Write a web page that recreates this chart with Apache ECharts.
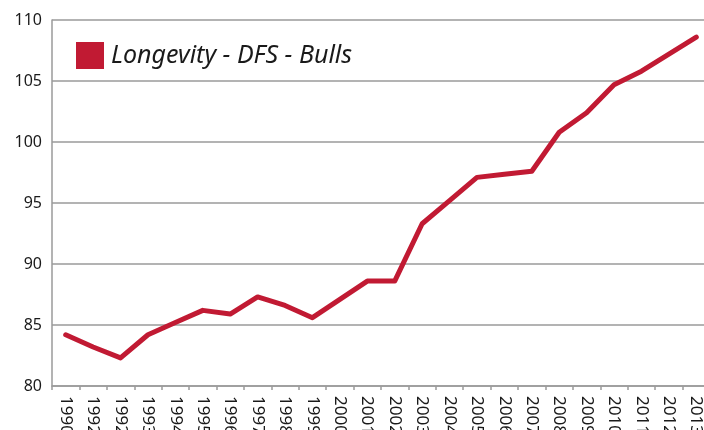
<!DOCTYPE html>
<html>
<head>
<meta charset="utf-8">
<script src="https://cdn.jsdelivr.net/npm/echarts@6/dist/echarts.min.js"></script>
<style>
  html, body { margin: 0; padding: 0; background: #fff; }
  #chart { width: 704px; height: 430px; }
</style>
</head>
<body>
<div id="chart"></div>
<script>
// x-axis labels as printed (the second label reads 1992 in the source)
const years = ['1990', '1992', '1992', '1993', '1994', '1995', '1996', '1997', '1998', '1999',
  '2000', '2001', '2002', '2003', '2004', '2005', '2006', '2007', '2008', '2009',
  '2010', '2011', '2012', '2013']
const seriesName = 'Longevity - DFS - Bulls'
const longevity = [84.2, 83.2, 82.3, 84.2, 85.2, 86.2, 85.9, 87.3, 86.6, 85.6,
  87.1, 88.6, 88.6, 93.3, 95.2, 97.1, 97.35, 97.6, 100.8, 102.4,
  104.7, 105.8, 107.2, 108.6]

const chart = echarts.init(document.getElementById('chart'))
const font = 'Noto Sans'

chart.setOption({
  animation: false,
  grid: {
    left: 52,
    top: 20,
    width: 658,
    bottom: 44,
    containLabel: false,
    outerBoundsMode: 'none'
  },
  legend: {
    left: 71,
    top: 37,
    icon: 'rect',
    itemWidth: 28,
    itemHeight: 27,
    itemGap: 12,
    data: [seriesName],
    textStyle: {
      fontFamily: font,
      fontStyle: 'italic',
      fontSize: 25,
      color: '#1a1a1a',
      padding: [0, 0, 0, 2]
    }
  },
  xAxis: {
    type: 'category',
    data: years,
    boundaryGap: true,
    axisLine: { lineStyle: { color: '#9a9a9a', width: 1.5 } },
    axisTick: { show: true, length: 4, lineStyle: { color: '#9a9a9a', width: 1.5 } },
    axisLabel: {
      rotate: -90,
      interval: 0,
      margin: 10,
      fontFamily: font,
      fontSize: 17,
      color: '#1a1a1a'
    }
  },
  yAxis: {
    type: 'value',
    min: 80,
    max: 110,
    interval: 5,
    axisLine: { show: true, lineStyle: { color: '#9a9a9a', width: 1.5 } },
    axisTick: { show: false },
    splitLine: { lineStyle: { color: '#9a9a9a', width: 1.5 } },
    axisLabel: {
      margin: 10,
      fontFamily: font,
      fontSize: 16,
      color: '#1a1a1a'
    }
  },
  series: [
    {
      name: seriesName,
      type: 'line',
      data: longevity,
      showSymbol: false,
      symbol: 'none',
      itemStyle: { color: '#c11a33' },
      lineStyle: { color: '#c11a33', width: 5, cap: 'round', join: 'round' }
    }
  ]
})
</script>
</body>
</html>
